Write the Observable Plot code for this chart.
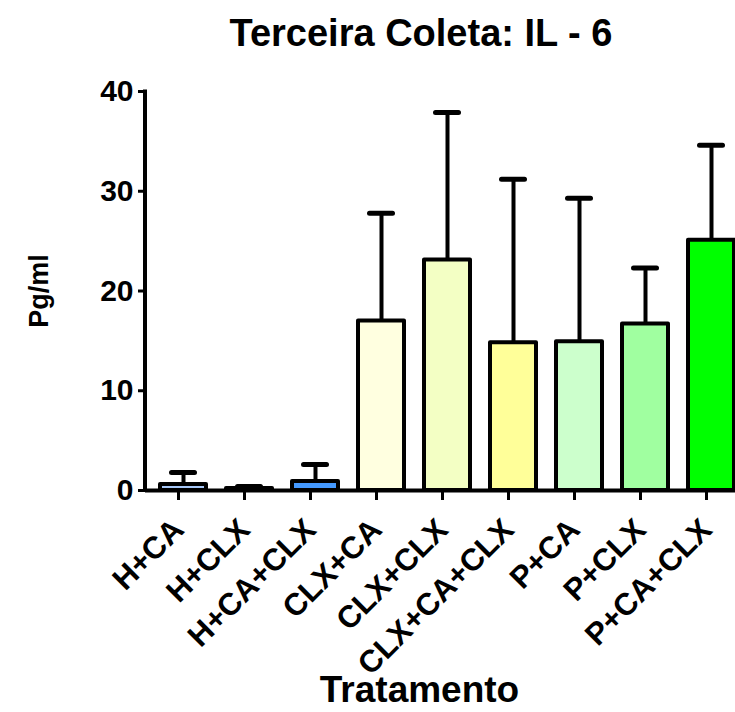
<!DOCTYPE html>
<html>
<head>
<meta charset="utf-8">
<script src="https://cdn.jsdelivr.net/npm/d3@7"></script>
<script src="https://cdn.jsdelivr.net/npm/@observablehq/plot@0.6"></script>
<style>
  body { margin: 0; background: #fff; font-family: "Liberation Sans", Arial, sans-serif; }
  #title { height: 70px; width: 735px; position: relative; overflow: hidden; }
  #title span { position: absolute; left: 0; width: 842px; text-align: center; top: 12px; font-size: 38px; font-weight: bold; color: #000; white-space: nowrap; }
</style>
</head>
<body>
<div id="title"><span>Terceira Coleta: IL - 6</span></div>
<div id="chart"></div>
<script>
const categories = ["H+CA", "H+CLX", "H+CA+CLX", "CLX+CA", "CLX+CLX", "CLX+CA+CLX", "P+CA", "P+CLX", "P+CA+CLX"];
const means = [0.6, 0.2, 0.9, 17.0, 23.1, 14.8, 14.9, 16.7, 25.1];
const upper = [1.8, 0.4, 2.6, 27.8, 37.9, 31.2, 29.3, 22.3, 34.6];
const colors = ["#a8c8f8", "#3366cc", "#4499ff", "#ffffe0", "#f3ffc4", "#ffff99", "#ccffcc", "#a0ffa0", "#00ff00"];
const yTicks = [0, 10, 20, 30, 40];

const data = categories.map((c, i) => ({cat: c, mean: means[i], up: upper[i], color: colors[i]}));

const font = "Liberation Sans, Arial, sans-serif";
const chart = Plot.plot({
  width: 735,
  height: 642,
  marginLeft: 145,
  marginRight: 0,
  marginTop: 21,
  marginBottom: 222,
  style: {fontFamily: font, color: "#000", background: "#fff", overflow: "visible"},
  x: {domain: categories, range: [145, 750], paddingInner: 0.3, paddingOuter: 0.173, axis: null},
  y: {domain: [0, 40], axis: null},
  marks: [
    Plot.ruleX(data, {x: "cat", y1: "mean", y2: "up", stroke: "#000", strokeWidth: 4}),
    Plot.tickY(data, {x: "cat", y: "up", stroke: "#000", strokeWidth: 5, insetLeft: 11.5, insetRight: 11.5, strokeLinecap: "round"}),
    Plot.barY(data, {x: "cat", y: "mean", fill: "color", stroke: "#000", strokeWidth: 4, strokeLinejoin: "round"}),
    Plot.ruleY([0], {stroke: "#000", strokeWidth: 4}),
    Plot.axisY({ticks: yTicks, tickSize: 7, tickPadding: 5, tickFormat: d => d, fontSize: 30, fontWeight: "bold", strokeWidth: 3, label: null}),
    Plot.axisX({tickSize: 10, tickPadding: 24, tickRotate: -45, fontSize: 31, fontWeight: "bold", strokeWidth: 3, label: null, dx: -5}),
    Plot.text(["Pg/ml"], {frameAnchor: "left", dx: -106, rotate: -90, textAnchor: "middle", lineAnchor: "middle", fontSize: 27, fontWeight: "bold", text: d => d}),
    Plot.text(["Tratamento"], {frameAnchor: "bottom", dx: -21, dy: 211, fontSize: 37, fontWeight: "bold", text: d => d})
  ]
});
document.getElementById("chart").append(chart);
const ys = chart.scale("y");
d3.select(chart).append("line")
  .attr("x1", 145).attr("x2", 145)
  .attr("y1", ys.apply(40) - 1.5).attr("y2", ys.apply(0) + 2)
  .attr("stroke", "#000").attr("stroke-width", 4);
</script>
</body>
</html>
